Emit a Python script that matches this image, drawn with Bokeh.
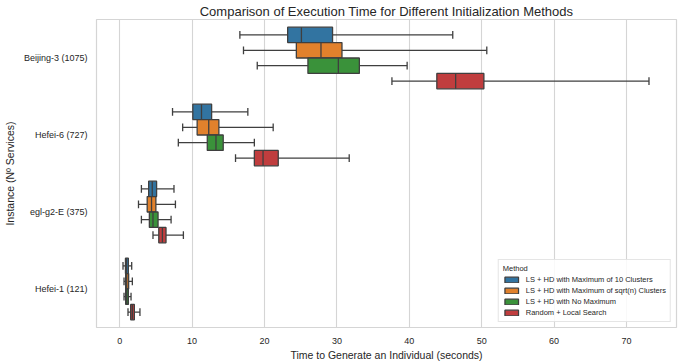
from bokeh.plotting import figure
from bokeh.models import (ColumnDataSource, FactorRange, Range1d, Legend, LegendItem,
                          FixedTicker)
from bokeh.transform import dodge
from bokeh.embed import file_html
from bokeh.resources import INLINE

instances = ["Beijing-3 (1075)", "Hefei-6 (727)", "egl-g2-E (375)", "Hefei-1 (121)"]
methods = ["LS + HD with Maximum of 10 Clusters",
           "LS + HD with Maximum of sqrt(n) Clusters",
           "LS + HD with No Maximum",
           "Random + Local Search"]
colors = ["#3274a1", "#e1812c", "#3a923a", "#c03d3e"]

# per method, per instance (order of `instances`)
lo_10 = [16.6, 7.3, 3.0, 0.46]
q1_10 = [23.2, 10.1, 4.0, 0.80]
med_10 = [25.1, 11.3, 4.5, 0.92]
q3_10 = [29.4, 12.7, 5.1, 1.20]
hi_10 = [46.0, 17.7, 7.5, 1.66]

lo_sq = [17.1, 8.7, 2.6, 0.60]
q1_sq = [24.4, 10.7, 3.8, 0.83]
med_sq = [27.8, 12.3, 4.4, 0.97]
q3_sq = [30.7, 13.7, 5.0, 1.24]
hi_sq = [50.7, 21.2, 7.7, 1.75]

lo_nm = [19.0, 8.1, 3.0, 0.60]
q1_nm = [26.0, 12.1, 4.1, 0.83]
med_nm = [30.2, 13.3, 4.6, 0.97]
q3_nm = [33.1, 14.3, 5.3, 1.20]
hi_nm = [39.7, 18.6, 7.1, 1.57]

lo_rl = [37.6, 16.0, 4.6, 1.15]
q1_rl = [43.8, 18.6, 5.4, 1.52]
med_rl = [46.4, 19.8, 5.9, 1.75]
q3_rl = [50.3, 21.9, 6.4, 2.03]
hi_rl = [73.1, 31.7, 8.8, 2.80]

stats = [
    (lo_10, q1_10, med_10, q3_10, hi_10),
    (lo_sq, q1_sq, med_sq, q3_sq, hi_sq),
    (lo_nm, q1_nm, med_nm, q3_nm, hi_nm),
    (lo_rl, q1_rl, med_rl, q3_rl, hi_rl),
]

x_ticks = [0, 10, 20, 30, 40, 50, 60, 70]

FONT = "Liberation Sans"
TXT = "#262626"
EDGE = "#3f3f3f"
GRID = "#d5d5d5"

p = figure(y_range=FactorRange(factors=list(reversed(instances)), range_padding=0),
           x_range=Range1d(-3.2, 76.9),
           frame_width=580, frame_height=308,
           min_border_left=10, min_border_right=6, min_border_top=4, min_border_bottom=2,
           output_backend="svg", toolbar_location=None,
           title="Comparison of Execution Time for Different Initialization Methods")
p.y_range.range_padding = 0
p.y_range.factor_padding = 0

p.title.align = "center"
p.title.text_font = FONT
p.title.text_font_size = "13px"
p.title.text_font_style = "normal"
p.title.text_color = TXT
p.title.standoff = 2

p.outline_line_color = GRID
p.outline_line_width = 1.2
p.xgrid.grid_line_color = GRID
p.xgrid.grid_line_width = 1.1
p.xgrid.ticker = FixedTicker(ticks=x_ticks)
p.ygrid.grid_line_color = None
p.xaxis.ticker = FixedTicker(ticks=x_ticks)

for ax in (p.xaxis[0], p.yaxis[0]):
    ax.axis_line_color = None
    ax.major_tick_line_color = None
    ax.minor_tick_line_color = None
    ax.major_label_text_font = FONT
    ax.major_label_text_font_size = "9px"
    ax.major_label_text_color = TXT
    ax.axis_label_text_font = FONT
    ax.axis_label_text_font_size = "10.5px"
    ax.axis_label_text_font_style = "normal"
    ax.axis_label_text_color = TXT

p.xaxis.axis_label = "Time to Generate an Individual (seconds)"
p.yaxis.axis_label = "Instance (Nº Services)"
p.xaxis.axis_label_standoff = 2
p.xaxis.major_label_standoff = 4
p.yaxis.axis_label_standoff = 5
p.yaxis.major_label_standoff = 3

offsets = [0.3, 0.1, -0.1, -0.3]
box_h = 0.2
cap = 0.05

items = []
for (lo, q1, med, q3, hi), col, off, name in zip(stats, colors, offsets, methods):
    src = ColumnDataSource(dict(inst=instances, lo=lo, q1=q1, med=med, q3=q3, hi=hi))
    yc = dodge("inst", off, range=p.y_range)
    yt = dodge("inst", off + box_h / 2, range=p.y_range)
    yb = dodge("inst", off - box_h / 2, range=p.y_range)
    ct = dodge("inst", off + cap, range=p.y_range)
    cb = dodge("inst", off - cap, range=p.y_range)
    p.segment(x0="lo", x1="q1", y0=yc, y1=yc, source=src, line_color=EDGE, line_width=1.3)
    p.segment(x0="q3", x1="hi", y0=yc, y1=yc, source=src, line_color=EDGE, line_width=1.3)
    p.segment(x0="lo", x1="lo", y0=cb, y1=ct, source=src, line_color=EDGE, line_width=1.3)
    p.segment(x0="hi", x1="hi", y0=cb, y1=ct, source=src, line_color=EDGE, line_width=1.3)
    r = p.hbar(y=yc, left="q1", right="q3", height=box_h, source=src,
               fill_color=col, line_color=EDGE, line_width=1.3)
    p.segment(x0="med", x1="med", y0=yb, y1=yt, source=src, line_color=EDGE, line_width=1.3)
    items.append(LegendItem(label=name, renderers=[r]))

legend = Legend(items=items, location="bottom_right", title="Method")
legend.title_text_font = FONT
legend.title_text_font_size = "7.5px"
legend.title_text_font_style = "normal"
legend.title_text_color = TXT
legend.title_standoff = 2
legend.label_text_font = FONT
legend.label_text_font_size = "7.5px"
legend.label_text_color = TXT
legend.glyph_width = 17
legend.glyph_height = 7
legend.label_height = 9
legend.label_standoff = 6
legend.spacing = 2
legend.padding = 4
legend.margin = 5
legend.border_line_color = "#cccccc"
legend.border_line_width = 1
legend.background_fill_alpha = 0.85
p.add_layout(legend)

open("out.html", "w").write(file_html(p, INLINE))
